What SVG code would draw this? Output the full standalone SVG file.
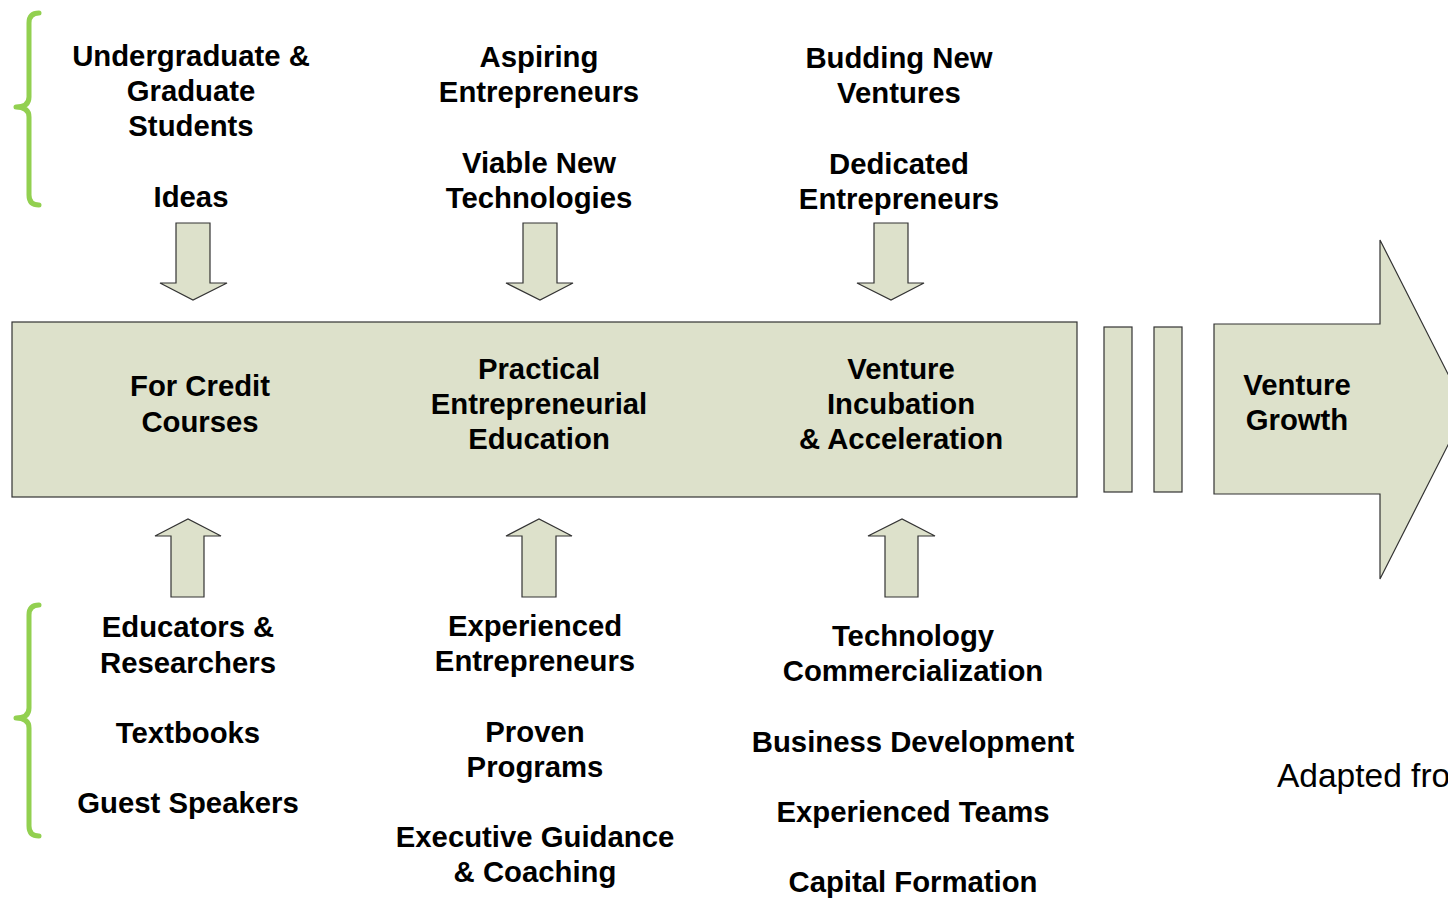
<svg xmlns="http://www.w3.org/2000/svg" width="1448" height="898" viewBox="0 0 1448 898">
<style>
.t{font-family:"Liberation Sans",Arial,sans-serif;font-weight:bold;font-size:29.3px;fill:#000;text-anchor:middle}
.n{font-family:"Liberation Sans",Arial,sans-serif;font-size:33.5px;fill:#000}
.s{fill:#DDE1CB;stroke:#333;stroke-width:1.2}
.b{fill:none;stroke:#92D050;stroke-width:5;stroke-linecap:round;stroke-linejoin:round}
</style>
<rect width="1448" height="898" fill="#fff"/>
<g id="braces">
<path class="b" d="M39,13 Q29,13 29,23 L29,97 Q29,107 16,107 Q29,107 29,117 L29,195 Q29,205 39,205"/>
<path class="b" d="M39,605 Q29,605 29,615 L29,708 Q29,718 16,718 Q29,718 29,728 L29,826 Q29,836 39,836"/>
</g>
<g id="connectors">
<path class="s" d="M176,223 L210,223 L210,283 L227,283 L193,300 L160,283 L176,283 Z"/>
<path class="s" d="M523,223 L557,223 L557,283 L573,283 L540,300 L506,283 L523,283 Z"/>
<path class="s" d="M874,223 L908,223 L908,283 L924,283 L891,300 L857,283 L874,283 Z"/>
<path class="s" d="M171,597 L204,597 L204,536 L221,536 L188,519 L155,536 L171,536 Z"/>
<path class="s" d="M522,597 L556,597 L556,536 L572,536 L539,519 L506,536 L522,536 Z"/>
<path class="s" d="M885,597 L918,597 L918,536 L935,536 L902,519 L868,536 L885,536 Z"/>
</g>
<g id="main-bar">
<rect class="s" x="12" y="322" width="1065" height="175"/>
</g>
<g id="for-credit">
<text class="t" x="200" y="396">For Credit</text>
<text class="t" x="200" y="432">Courses</text>
</g>
<g id="practical">
<text class="t" x="539" y="379">Practical</text>
<text class="t" x="539" y="414">Entrepreneurial</text>
<text class="t" x="539" y="449">Education</text>
</g>
<g id="incubation">
<text class="t" x="901" y="379">Venture</text>
<text class="t" x="901" y="414">Incubation</text>
<text class="t" x="901" y="449">&amp; Acceleration</text>
</g>
<g id="bars">
<rect class="s" x="1104" y="327" width="28" height="165"/>
<rect class="s" x="1154" y="327" width="28" height="165"/>
</g>
<g id="venture-growth">
<path class="s" d="M1214,324 L1380,324 L1380,240 L1466,409.5 L1380,579 L1380,494 L1214,494 Z"/>
<text class="t" x="1297" y="395">Venture</text>
<text class="t" x="1297" y="430">Growth</text>
</g>
<g id="top-col1">
<text class="t" x="191" y="66">Undergraduate &amp;</text>
<text class="t" x="191" y="101">Graduate</text>
<text class="t" x="191" y="136">Students</text>
<text class="t" x="191" y="207">Ideas</text>
</g>
<g id="top-col2">
<text class="t" x="539" y="67">Aspiring</text>
<text class="t" x="539" y="102">Entrepreneurs</text>
<text class="t" x="539" y="173">Viable New</text>
<text class="t" x="539" y="208">Technologies</text>
</g>
<g id="top-col3">
<text class="t" x="899" y="68">Budding New</text>
<text class="t" x="899" y="103">Ventures</text>
<text class="t" x="899" y="174">Dedicated</text>
<text class="t" x="899" y="209">Entrepreneurs</text>
</g>
<g id="bottom-col1">
<text class="t" x="188" y="637">Educators &amp;</text>
<text class="t" x="188" y="673">Researchers</text>
<text class="t" x="188" y="743">Textbooks</text>
<text class="t" x="188" y="813">Guest Speakers</text>
</g>
<g id="bottom-col2">
<text class="t" x="535" y="636">Experienced</text>
<text class="t" x="535" y="671">Entrepreneurs</text>
<text class="t" x="535" y="742">Proven</text>
<text class="t" x="535" y="777">Programs</text>
<text class="t" x="535" y="847">Executive Guidance</text>
<text class="t" x="535" y="882">&amp; Coaching</text>
</g>
<g id="bottom-col3">
<text class="t" x="913" y="646">Technology</text>
<text class="t" x="913" y="681">Commercialization</text>
<text class="t" x="913" y="752">Business Development</text>
<text class="t" x="913" y="822">Experienced Teams</text>
<text class="t" x="913" y="892">Capital Formation</text>
</g>
<g id="credit">
<text class="n" x="1277" y="787">Adapted fro</text>
</g>
</svg>
